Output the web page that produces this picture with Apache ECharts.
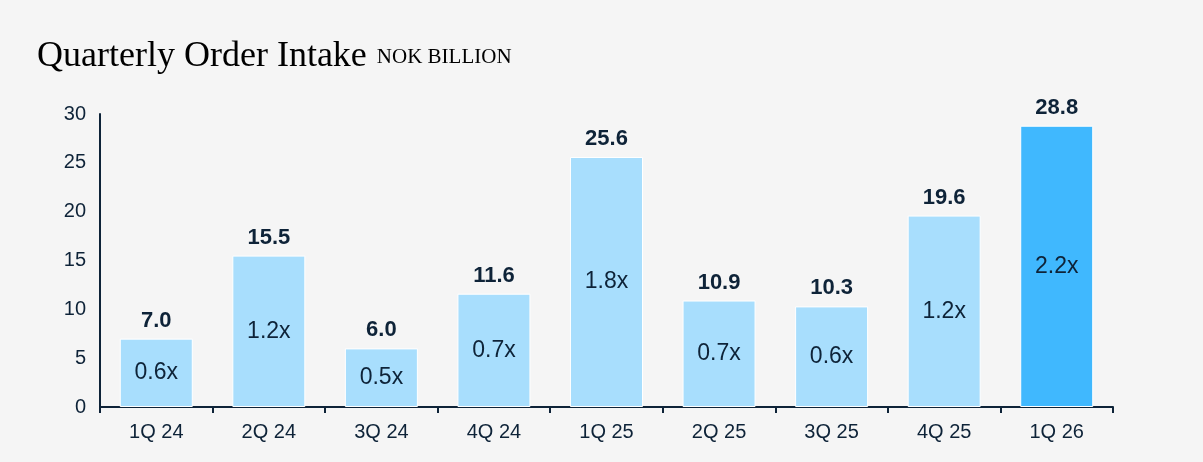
<!DOCTYPE html>
<html>
<head>
<meta charset="utf-8">
<script src="https://cdn.jsdelivr.net/npm/echarts@6/dist/echarts.min.js"></script>
<style>
  html, body { margin: 0; padding: 0; background: #f5f5f5; }
  #chart { width: 1203px; height: 462px; }
</style>
</head>
<body>
<div id="chart"></div>
<script>
// Quarterly order intake, NOK billion
const quarters = ['1Q 24', '2Q 24', '3Q 24', '4Q 24', '1Q 25', '2Q 25', '3Q 25', '4Q 25', '1Q 26'];
const orderIntake = [7.0, 15.5, 6.0, 11.6, 25.6, 10.9, 10.3, 19.6, 28.8];
// Book-to-bill ratio shown inside each bar
const bookToBill = ['0.6x', '1.2x', '0.5x', '0.7x', '1.8x', '0.7x', '0.6x', '1.2x', '2.2x'];
const yTicks = [0, 5, 10, 15, 20, 25, 30];

const dark = '#0e2338';
const lightBlue = '#a8defd';
const brightBlue = '#40b8fe';

const chart = echarts.init(document.getElementById('chart'));

const barData = orderIntake.map((v, i) => ({
  value: v,
  itemStyle: { color: i === orderIntake.length - 1 ? brightBlue : lightBlue }
}));

chart.setOption({
  backgroundColor: '#f5f5f5',
  animation: false,
  title: {
    text: '{main|Quarterly Order Intake} {unit|NOK BILLION}',
    left: 32,
    top: 34,
    textStyle: {
      rich: {
        main: { fontFamily: 'Liberation Serif', fontSize: 36, fontWeight: 'normal', color: '#000000' },
        unit: { fontFamily: 'Liberation Serif', fontSize: 21, fontWeight: 'normal', color: '#000000', padding: [0, 0, 0, 5] }
      }
    }
  },
  grid: { left: 100, right: 90, top: 114, bottom: 55 },
  xAxis: {
    type: 'category',
    data: quarters,
    axisLine: { lineStyle: { color: dark, width: 2 } },
    axisTick: { show: true, length: 6, lineStyle: { color: dark, width: 2 } },
    axisLabel: { color: dark, fontFamily: 'Liberation Sans', fontSize: 20, margin: 15 }
  },
  yAxis: {
    type: 'value',
    min: yTicks[0],
    max: yTicks[yTicks.length - 1],
    interval: 5,
    splitLine: { show: false },
    axisLine: { show: true, lineStyle: { color: dark, width: 2 } },
    axisTick: { show: false },
    axisLabel: { color: dark, fontFamily: 'Liberation Sans', fontSize: 20, margin: 14 }
  },
  series: [
    {
      type: 'bar',
      data: barData,
      barWidth: 73,
      itemStyle: { borderColor: '#ffffff', borderWidth: 1 },
      label: {
        show: true,
        position: 'top',
        distance: 7,
        formatter: p => p.value.toFixed(1),
        color: dark,
        fontFamily: 'Liberation Sans',
        fontWeight: 'bold',
        fontSize: 22
      }
    },
    {
      type: 'bar',
      data: orderIntake,
      barWidth: 73,
      barGap: '-100%',
      itemStyle: { color: 'transparent' },
      label: {
        show: true,
        position: 'inside',
        formatter: p => bookToBill[p.dataIndex],
        color: dark,
        fontFamily: 'Liberation Sans',
        fontSize: 23
      },
      silent: true,
      z: 3
    }
  ]
});
</script>
</body>
</html>
